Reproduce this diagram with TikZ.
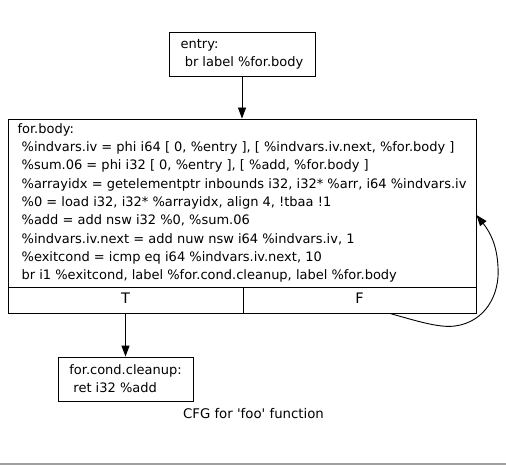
\documentclass[tikz,border=0pt]{standalone}
\usepackage{fontspec}
\setmainfont{DejaVu Sans}
\usetikzlibrary{arrows.meta}
\newcommand\ldsp{\hspace*{0.318em}}
\definecolor{rulegray}{HTML}{A0A0A0}
\tikzset{
  cfgfont/.style={font=\fontsize{13}{18.3}\selectfont},
  block/.style={draw=black, line width=0.9pt, rectangle, align=left, inner sep=0pt, cfgfont},
  cell/.style={draw=black, line width=0.9pt, rectangle, inner sep=0pt, text depth=4.5pt,
    font=\fontsize{14.5}{17}\selectfont},
  arr/.style={draw=black, line width=0.9pt, -{Triangle[length=11pt,width=8pt]}},
  caption/.style={font=\fontsize{13.3}{16}\selectfont, inner sep=0pt}
}
\begin{document}
\begin{tikzpicture}[x=1pt,y=-1pt]
\useasboundingbox (0,0) rectangle (506,465);
\node[block, minimum width=146pt, minimum height=44pt] (entry) at (242,54)
  {entry:\\ \ldsp br label \%for.body};
\node[block, minimum width=468pt, minimum height=168pt] (body) at (242,203)
  {for.body:\\
   \ldsp\%indvars.iv = phi i64 [ 0, \%entry ], [ \%indvars.iv.next, \%for.body ]\\
   \ldsp\%sum.06 = phi i32 [ 0, \%entry ], [ \%add, \%for.body ]\\
   \ldsp\%arrayidx = getelementptr inbounds i32, i32* \%arr, i64 \%indvars.iv\\
   \ldsp\%0 = load i32, i32* \%arrayidx, align 4, !tbaa !1\\
   \ldsp\%add = add nsw i32 \%0, \%sum.06\\
   \ldsp\%indvars.iv.next = add nuw nsw i64 \%indvars.iv, 1\\
   \ldsp\%exitcond = icmp eq i64 \%indvars.iv.next, 10\\
   \ldsp br i1 \%exitcond, label \%for.cond.cleanup, label \%for.body};
\node[cell, minimum width=235pt, minimum height=26pt] (T) at (125.5,300) {T};
\node[cell, minimum width=233pt, minimum height=26pt] (F) at (359.5,300) {F};
\node[block, minimum width=135pt, minimum height=44pt] (cleanup) at (125.5,379)
  {for.cond.cleanup:\\ \ldsp ret i32 \%add};
\node[caption] (cap) at (253.5,414) {CFG for \textquotesingle foo\textquotesingle\ function};
\coordinate (loopout) at ([xshift=30.5pt]F.south);
\coordinate (loopin) at ([yshift=-12pt]body.east);
\draw[arr] (entry.south) -- (body.north);
\draw[arr] (T.south) -- (cleanup.north);
\draw[arr] (loopout) .. controls (420,322) and (440,328) .. (455,326)
  .. controls (485,322) and (500,295) .. (498,267)
  .. controls (497,245) and (490,232) .. (loopin);
\draw[rulegray, line width=1.4pt] (0,464) -- (506,464);
\end{tikzpicture}
\end{document}
